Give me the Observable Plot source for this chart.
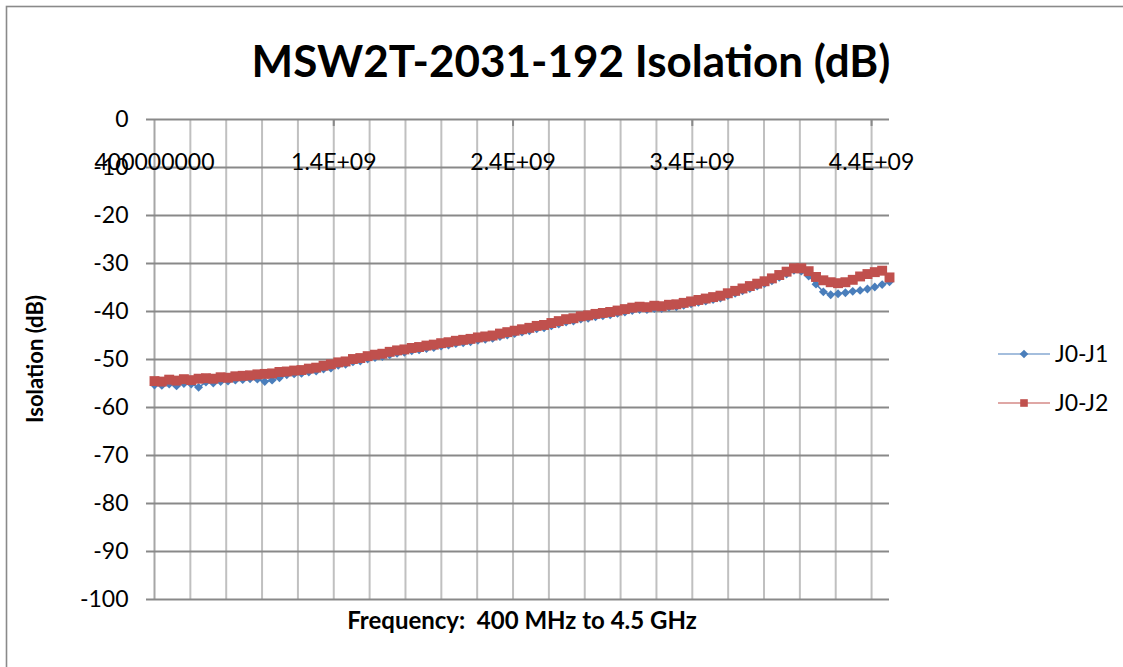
<!DOCTYPE html>
<html>
<head>
<meta charset="utf-8">
<script src="https://cdn.jsdelivr.net/npm/d3@7"></script>
<script src="https://cdn.jsdelivr.net/npm/@observablehq/plot@0.6"></script>
<style>
  html, body { margin: 0; padding: 0; background: #fff; }
  #chart { width: 1123px; height: 667px; }
</style>
</head>
<body>
<div id="chart"></div>
<script>
// Frequency (MHz)
const freqMHz = [400, 441, 482, 523, 564, 605, 646, 687, 728, 769, 810, 851, 892, 933, 974, 1015, 1056, 1097, 1138, 1179,
  1220, 1261, 1302, 1343, 1384, 1425, 1466, 1507, 1548, 1589, 1630, 1671, 1712, 1753, 1794, 1835, 1876, 1917, 1958, 1999,
  2040, 2081, 2122, 2163, 2204, 2245, 2286, 2327, 2368, 2409, 2450, 2491, 2532, 2573, 2614, 2655, 2696, 2737, 2778, 2819,
  2860, 2901, 2942, 2983, 3024, 3065, 3106, 3147, 3188, 3229, 3270, 3311, 3352, 3393, 3434, 3475, 3516, 3557, 3598, 3639,
  3680, 3721, 3762, 3803, 3844, 3885, 3926, 3967, 4008, 4049, 4090, 4131, 4172, 4213, 4254, 4295, 4336, 4377, 4418, 4459, 4500];

// J0-J1 isolation (dB)
const j0j1 = [-55.3, -55.4, -55.1, -55.5, -55.0, -55.1, -55.8, -54.7, -54.9, -54.6, -54.5, -54.3, -54.2, -54.0, -54.1, -54.6, -54.3, -53.8, -53.2, -53.0,
  -52.9, -52.6, -52.4, -52.0, -51.8, -51.2, -51.0, -50.5, -50.3, -49.9, -49.6, -49.4, -49.0, -48.7, -48.5, -48.2, -48.0, -47.7, -47.5, -47.2,
  -47.0, -46.7, -46.5, -46.3, -46.0, -45.8, -45.6, -45.2, -44.9, -44.6, -44.3, -44.0, -43.6, -43.4, -43.0, -42.6, -42.2, -42.0, -41.6, -41.4,
  -41.1, -40.9, -40.7, -40.4, -40.1, -39.8, -39.6, -39.6, -39.4, -39.4, -39.1, -39.0, -38.7, -38.4, -38.1, -37.8, -37.5, -37.2, -36.7, -36.2,
  -35.7, -35.2, -34.7, -34.2, -33.6, -32.9, -32.2, -31.4, -31.6, -32.6, -34.3, -35.9, -36.5, -36.3, -36.1, -35.8, -35.6, -35.3, -34.9, -34.4, -33.8];

// J0-J2 isolation (dB)
const j0j2 = [-54.5, -54.6, -54.2, -54.4, -54.1, -54.3, -54.0, -53.9, -54.0, -53.7, -53.8, -53.5, -53.4, -53.3, -53.1, -53.0, -52.9, -52.6, -52.5, -52.3,
  -52.2, -51.9, -51.7, -51.3, -51.0, -50.6, -50.4, -49.9, -49.7, -49.3, -49.0, -48.8, -48.4, -48.1, -47.9, -47.6, -47.4, -47.1, -46.9, -46.6,
  -46.4, -46.1, -45.9, -45.7, -45.4, -45.2, -45.0, -44.6, -44.3, -44.0, -43.7, -43.4, -43.0, -42.8, -42.4, -42.0, -41.6, -41.4, -41.0, -40.8,
  -40.5, -40.3, -40.1, -39.8, -39.5, -39.2, -39.0, -39.1, -38.8, -38.9, -38.6, -38.5, -38.2, -37.9, -37.6, -37.3, -37.0, -36.7, -36.2, -35.7,
  -35.2, -34.7, -34.2, -33.7, -33.1, -32.4, -31.7, -31.0, -31.0, -31.6, -32.8, -33.5, -33.9, -34.1, -33.9, -33.4, -32.7, -32.2, -31.8, -31.5, -32.9];

const seriesNames = ["J0-J1", "J0-J2"];
const xMajorTicks = [4e8, 1.4e9, 2.4e9, 3.4e9, 4.4e9];
const xTickLabels = ["400000000", "1.4E+09", "2.4E+09", "3.4E+09", "4.4E+09"];
const xMinorTicks = [6e8, 8e8, 1.0e9, 1.2e9, 1.4e9, 1.6e9, 1.8e9, 2.0e9, 2.2e9, 2.4e9, 2.6e9, 2.8e9, 3.0e9, 3.2e9, 3.4e9, 3.6e9, 3.8e9, 4.0e9, 4.2e9, 4.4e9];
const yTicks = [0, -10, -20, -30, -40, -50, -60, -70, -80, -90, -100];

const d1 = freqMHz.map((f, i) => ({f: f * 1e6, v: j0j1[i]}));
const d2 = freqMHz.map((f, i) => ({f: f * 1e6, v: j0j2[i]}));

const blue = "#4a7ebb", red = "#c0504d";
const hGrid = "#898989", vGrid = "#c0c0c0";

const svg = Plot.plot({
  width: 1123,
  height: 667,
  marginLeft: 154,
  marginRight: 234,
  marginTop: 119,
  marginBottom: 68,
  style: {fontFamily: "Lato, sans-serif", fontSize: "23px", background: "#fff", color: "#000"},
  x: {type: "linear", domain: [4e8, 4.5e9], axis: null},
  y: {domain: [-100, 0], axis: null},
  marks: [
    Plot.ruleX(xMinorTicks, {x: d => d, stroke: vGrid, strokeWidth: 2}),
    Plot.ruleX([4e8], {x: d => d, stroke: "#a6a6a6", strokeWidth: 2}),
    Plot.ruleY(yTicks, {y: d => d, stroke: hGrid, strokeWidth: 2}),
    Plot.axisY(yTicks, {anchor: "left", label: null, tickSize: 8, tickPadding: 18, tickFormat: d => String(d),
      stroke: hGrid, strokeWidth: 2, fill: "#000", fontSize: 23}),
    Plot.ruleX(xMajorTicks.slice(1), {x: d => d, y1: 0, y2: -1.45, stroke: hGrid, strokeWidth: 2}),
    Plot.text(xMajorTicks, {x: d => d, text: (d, i) => xTickLabels[i], frameAnchor: "top", dy: 34, fontSize: 23, fill: "#000"}),
    Plot.line(d1, {x: "f", y: "v", stroke: blue, strokeWidth: 1.5}),
    Plot.dot(d1, {x: "f", y: "v", symbol: "diamond2", r: 4, fill: blue, stroke: "none"}),
    Plot.line(d2, {x: "f", y: "v", stroke: red, strokeWidth: 1.5}),
    Plot.dot(d2, {x: "f", y: "v", symbol: "square", r: 5.6, fill: red, stroke: "none"})
  ]
});

const s = d3.select(svg);
// chart border
s.append("rect").attr("x", 6.5).attr("y", 6.5).attr("width", 1300).attr("height", 1000)
  .attr("fill", "none").attr("stroke", "#8a8a8a").attr("stroke-width", 1.6);
// title
s.append("text").attr("x", 571).attr("y", 77).attr("text-anchor", "middle")
  .attr("font-weight", "bold").attr("font-size", 44).attr("fill", "#000")
  .text("MSW2T-2031-192 Isolation (dB)");
// y label
s.append("text").attr("transform", "translate(43,359) rotate(-90)").attr("text-anchor", "middle")
  .attr("font-weight", "bold").attr("font-size", 22).attr("fill", "#000")
  .text("Isolation (dB)");
// x label
s.append("text").attr("x", 522).attr("y", 629).attr("text-anchor", "middle")
  .attr("font-weight", "bold").attr("font-size", 24).attr("fill", "#000")
  .style("white-space", "pre")
  .text("Frequency:  400 MHz to 4.5 GHz");
// legend
const legend = [
  {name: seriesNames[0], color: blue, y: 354, sym: "diamond"},
  {name: seriesNames[1], color: red, y: 403, sym: "square"}
];
legend.forEach(l => {
  s.append("line").attr("x1", 998).attr("x2", 1050).attr("y1", l.y).attr("y2", l.y)
    .attr("stroke", l.color).attr("stroke-width", 1.2);
  if (l.sym === "square") {
    s.append("rect").attr("x", 1020.2).attr("y", l.y - 3.8).attr("width", 7.6).attr("height", 7.6).attr("fill", l.color);
  } else {
    s.append("path").attr("d", `M1024,${l.y - 4.3}L1028.3,${l.y}L1024,${l.y + 4.3}L1019.7,${l.y}Z`).attr("fill", l.color);
  }
  s.append("text").attr("x", 1055).attr("y", l.y + 8).attr("text-anchor", "start")
    .attr("font-size", 23).attr("fill", "#000").text(l.name);
});

document.getElementById("chart").appendChild(svg);
</script>
</body>
</html>
